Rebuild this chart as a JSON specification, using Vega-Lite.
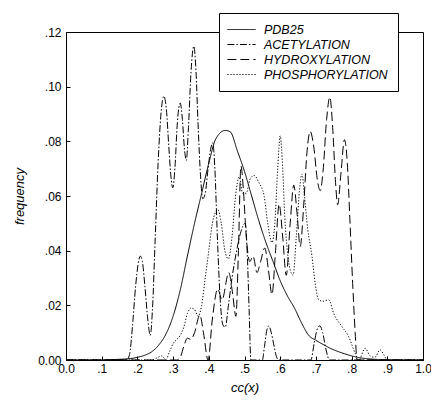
{
  "$schema": "https://vega.github.io/schema/vega-lite/v6.json",
  "autosize": {"type": "none"},
  "padding": {"left": 66, "top": 32, "right": 8, "bottom": 45},
  "width": 357,
  "height": 328,
  "config": {
    "font": "Liberation Sans",
    "view": {"stroke": "black", "strokeWidth": 1},
    "axis": {"domainColor": "black", "tickColor": "black", "labelColor": "black", "titleColor": "black", "grid": false, "labelFontSize": 12, "titleFontSize": 13, "titleFontWeight": "normal", "titleFontStyle": "italic", "labelFont": "Liberation Sans", "titleFont": "Liberation Sans"}
  },
  "datasets": {
    "curves": [
      {"x": 0, "y": 0, "s": "PDB25"},
      {"x": 0.1, "y": 0, "s": "PDB25"},
      {"x": 0.14, "y": 0.0002, "s": "PDB25"},
      {"x": 0.18, "y": 0.0005, "s": "PDB25"},
      {"x": 0.2, "y": 0.001, "s": "PDB25"},
      {"x": 0.22, "y": 0.0017, "s": "PDB25"},
      {"x": 0.24, "y": 0.003, "s": "PDB25"},
      {"x": 0.26, "y": 0.0055, "s": "PDB25"},
      {"x": 0.28, "y": 0.0095, "s": "PDB25"},
      {"x": 0.3, "y": 0.016, "s": "PDB25"},
      {"x": 0.32, "y": 0.0256, "s": "PDB25"},
      {"x": 0.34, "y": 0.038, "s": "PDB25"},
      {"x": 0.36, "y": 0.05, "s": "PDB25"},
      {"x": 0.38, "y": 0.061, "s": "PDB25"},
      {"x": 0.4, "y": 0.072, "s": "PDB25"},
      {"x": 0.42, "y": 0.081, "s": "PDB25"},
      {"x": 0.446, "y": 0.084, "s": "PDB25"},
      {"x": 0.46, "y": 0.0835, "s": "PDB25"},
      {"x": 0.48, "y": 0.0765, "s": "PDB25"},
      {"x": 0.5, "y": 0.069, "s": "PDB25"},
      {"x": 0.52, "y": 0.06, "s": "PDB25"},
      {"x": 0.54, "y": 0.051, "s": "PDB25"},
      {"x": 0.56, "y": 0.043, "s": "PDB25"},
      {"x": 0.58, "y": 0.036, "s": "PDB25"},
      {"x": 0.6, "y": 0.029, "s": "PDB25"},
      {"x": 0.62, "y": 0.0235, "s": "PDB25"},
      {"x": 0.64, "y": 0.019, "s": "PDB25"},
      {"x": 0.66, "y": 0.0135, "s": "PDB25"},
      {"x": 0.68, "y": 0.009, "s": "PDB25"},
      {"x": 0.7, "y": 0.0072, "s": "PDB25"},
      {"x": 0.72, "y": 0.0057, "s": "PDB25"},
      {"x": 0.74, "y": 0.0043, "s": "PDB25"},
      {"x": 0.76, "y": 0.0032, "s": "PDB25"},
      {"x": 0.78, "y": 0.0023, "s": "PDB25"},
      {"x": 0.8, "y": 0.0015, "s": "PDB25"},
      {"x": 0.82, "y": 0.0009, "s": "PDB25"},
      {"x": 0.85, "y": 0.0004, "s": "PDB25"},
      {"x": 0.9, "y": 0.0001, "s": "PDB25"},
      {"x": 1.0, "y": 0, "s": "PDB25"},

      {"x": 0, "y": 0, "s": "ACETYLATION"},
      {"x": 0.17, "y": 0, "s": "ACETYLATION"},
      {"x": 0.178, "y": 0.002, "s": "ACETYLATION"},
      {"x": 0.186, "y": 0.012, "s": "ACETYLATION"},
      {"x": 0.195, "y": 0.027, "s": "ACETYLATION"},
      {"x": 0.202, "y": 0.035, "s": "ACETYLATION"},
      {"x": 0.208, "y": 0.038, "s": "ACETYLATION"},
      {"x": 0.214, "y": 0.036, "s": "ACETYLATION"},
      {"x": 0.221, "y": 0.027, "s": "ACETYLATION"},
      {"x": 0.229, "y": 0.015, "s": "ACETYLATION"},
      {"x": 0.236, "y": 0.009, "s": "ACETYLATION"},
      {"x": 0.242, "y": 0.018, "s": "ACETYLATION"},
      {"x": 0.25, "y": 0.045, "s": "ACETYLATION"},
      {"x": 0.258, "y": 0.072, "s": "ACETYLATION"},
      {"x": 0.266, "y": 0.09, "s": "ACETYLATION"},
      {"x": 0.274, "y": 0.0965, "s": "ACETYLATION"},
      {"x": 0.281, "y": 0.092, "s": "ACETYLATION"},
      {"x": 0.288, "y": 0.078, "s": "ACETYLATION"},
      {"x": 0.294, "y": 0.067, "s": "ACETYLATION"},
      {"x": 0.299, "y": 0.063, "s": "ACETYLATION"},
      {"x": 0.305, "y": 0.07, "s": "ACETYLATION"},
      {"x": 0.312, "y": 0.087, "s": "ACETYLATION"},
      {"x": 0.32, "y": 0.094, "s": "ACETYLATION"},
      {"x": 0.326, "y": 0.088, "s": "ACETYLATION"},
      {"x": 0.332, "y": 0.077, "s": "ACETYLATION"},
      {"x": 0.337, "y": 0.073, "s": "ACETYLATION"},
      {"x": 0.343, "y": 0.085, "s": "ACETYLATION"},
      {"x": 0.35, "y": 0.105, "s": "ACETYLATION"},
      {"x": 0.358, "y": 0.1148, "s": "ACETYLATION"},
      {"x": 0.364, "y": 0.106, "s": "ACETYLATION"},
      {"x": 0.37, "y": 0.086, "s": "ACETYLATION"},
      {"x": 0.377, "y": 0.067, "s": "ACETYLATION"},
      {"x": 0.383, "y": 0.059, "s": "ACETYLATION"},
      {"x": 0.39, "y": 0.061, "s": "ACETYLATION"},
      {"x": 0.398, "y": 0.07, "s": "ACETYLATION"},
      {"x": 0.405, "y": 0.077, "s": "ACETYLATION"},
      {"x": 0.411, "y": 0.0795, "s": "ACETYLATION"},
      {"x": 0.417, "y": 0.07, "s": "ACETYLATION"},
      {"x": 0.424, "y": 0.045, "s": "ACETYLATION"},
      {"x": 0.432, "y": 0.022, "s": "ACETYLATION"},
      {"x": 0.439, "y": 0.013, "s": "ACETYLATION"},
      {"x": 0.446, "y": 0.012, "s": "ACETYLATION"},
      {"x": 0.455, "y": 0.02, "s": "ACETYLATION"},
      {"x": 0.465, "y": 0.03, "s": "ACETYLATION"},
      {"x": 0.478, "y": 0.04, "s": "ACETYLATION"},
      {"x": 0.49, "y": 0.047, "s": "ACETYLATION"},
      {"x": 0.502, "y": 0.05, "s": "ACETYLATION"},
      {"x": 0.508, "y": 0.038, "s": "ACETYLATION"},
      {"x": 0.513, "y": 0.018, "s": "ACETYLATION"},
      {"x": 0.518, "y": 0, "s": "ACETYLATION"},
      {"x": 0.55, "y": 0, "s": "ACETYLATION"},
      {"x": 0.556, "y": 0.005, "s": "ACETYLATION"},
      {"x": 0.562, "y": 0.0105, "s": "ACETYLATION"},
      {"x": 0.568, "y": 0.0125, "s": "ACETYLATION"},
      {"x": 0.575, "y": 0.01, "s": "ACETYLATION"},
      {"x": 0.583, "y": 0.005, "s": "ACETYLATION"},
      {"x": 0.59, "y": 0.001, "s": "ACETYLATION"},
      {"x": 0.596, "y": 0, "s": "ACETYLATION"},
      {"x": 0.686, "y": 0, "s": "ACETYLATION"},
      {"x": 0.695, "y": 0.006, "s": "ACETYLATION"},
      {"x": 0.703, "y": 0.011, "s": "ACETYLATION"},
      {"x": 0.711, "y": 0.0125, "s": "ACETYLATION"},
      {"x": 0.719, "y": 0.01, "s": "ACETYLATION"},
      {"x": 0.728, "y": 0.004, "s": "ACETYLATION"},
      {"x": 0.738, "y": 0, "s": "ACETYLATION"},
      {"x": 1.0, "y": 0, "s": "ACETYLATION"},

      {"x": 0, "y": 0, "s": "HYDROXYLATION"},
      {"x": 0.31, "y": 0, "s": "HYDROXYLATION"},
      {"x": 0.32, "y": 0.001, "s": "HYDROXYLATION"},
      {"x": 0.33, "y": 0.005, "s": "HYDROXYLATION"},
      {"x": 0.34, "y": 0.008, "s": "HYDROXYLATION"},
      {"x": 0.35, "y": 0.0075, "s": "HYDROXYLATION"},
      {"x": 0.36, "y": 0.01, "s": "HYDROXYLATION"},
      {"x": 0.375, "y": 0.0165, "s": "HYDROXYLATION"},
      {"x": 0.385, "y": 0.01, "s": "HYDROXYLATION"},
      {"x": 0.398, "y": 0, "s": "HYDROXYLATION"},
      {"x": 0.41, "y": 0.015, "s": "HYDROXYLATION"},
      {"x": 0.425, "y": 0.026, "s": "HYDROXYLATION"},
      {"x": 0.437, "y": 0.022, "s": "HYDROXYLATION"},
      {"x": 0.456, "y": 0.032, "s": "HYDROXYLATION"},
      {"x": 0.466, "y": 0.025, "s": "HYDROXYLATION"},
      {"x": 0.476, "y": 0.016, "s": "HYDROXYLATION"},
      {"x": 0.483, "y": 0.04, "s": "HYDROXYLATION"},
      {"x": 0.49, "y": 0.071, "s": "HYDROXYLATION"},
      {"x": 0.497, "y": 0.062, "s": "HYDROXYLATION"},
      {"x": 0.505, "y": 0.045, "s": "HYDROXYLATION"},
      {"x": 0.515, "y": 0.036, "s": "HYDROXYLATION"},
      {"x": 0.524, "y": 0.038, "s": "HYDROXYLATION"},
      {"x": 0.535, "y": 0.032, "s": "HYDROXYLATION"},
      {"x": 0.545, "y": 0.036, "s": "HYDROXYLATION"},
      {"x": 0.557, "y": 0.041, "s": "HYDROXYLATION"},
      {"x": 0.567, "y": 0.033, "s": "HYDROXYLATION"},
      {"x": 0.577, "y": 0.024, "s": "HYDROXYLATION"},
      {"x": 0.587, "y": 0.04, "s": "HYDROXYLATION"},
      {"x": 0.597, "y": 0.057, "s": "HYDROXYLATION"},
      {"x": 0.607, "y": 0.045, "s": "HYDROXYLATION"},
      {"x": 0.617, "y": 0.031, "s": "HYDROXYLATION"},
      {"x": 0.628, "y": 0.05, "s": "HYDROXYLATION"},
      {"x": 0.638, "y": 0.064, "s": "HYDROXYLATION"},
      {"x": 0.647, "y": 0.054, "s": "HYDROXYLATION"},
      {"x": 0.656, "y": 0.0415, "s": "HYDROXYLATION"},
      {"x": 0.666, "y": 0.057, "s": "HYDROXYLATION"},
      {"x": 0.675, "y": 0.076, "s": "HYDROXYLATION"},
      {"x": 0.684, "y": 0.0836, "s": "HYDROXYLATION"},
      {"x": 0.694, "y": 0.078, "s": "HYDROXYLATION"},
      {"x": 0.704, "y": 0.066, "s": "HYDROXYLATION"},
      {"x": 0.712, "y": 0.062, "s": "HYDROXYLATION"},
      {"x": 0.72, "y": 0.069, "s": "HYDROXYLATION"},
      {"x": 0.73, "y": 0.088, "s": "HYDROXYLATION"},
      {"x": 0.739, "y": 0.0962, "s": "HYDROXYLATION"},
      {"x": 0.747, "y": 0.085, "s": "HYDROXYLATION"},
      {"x": 0.755, "y": 0.065, "s": "HYDROXYLATION"},
      {"x": 0.761, "y": 0.0568, "s": "HYDROXYLATION"},
      {"x": 0.77, "y": 0.068, "s": "HYDROXYLATION"},
      {"x": 0.78, "y": 0.0806, "s": "HYDROXYLATION"},
      {"x": 0.788, "y": 0.072, "s": "HYDROXYLATION"},
      {"x": 0.795, "y": 0.052, "s": "HYDROXYLATION"},
      {"x": 0.803, "y": 0.028, "s": "HYDROXYLATION"},
      {"x": 0.81, "y": 0.01, "s": "HYDROXYLATION"},
      {"x": 0.815, "y": 0, "s": "HYDROXYLATION"},
      {"x": 1.0, "y": 0, "s": "HYDROXYLATION"},

      {"x": 0, "y": 0, "s": "PHOSPHORYLATION"},
      {"x": 0.24, "y": 0, "s": "PHOSPHORYLATION"},
      {"x": 0.255, "y": 0.0008, "s": "PHOSPHORYLATION"},
      {"x": 0.268, "y": 0.0015, "s": "PHOSPHORYLATION"},
      {"x": 0.28, "y": 0.0002, "s": "PHOSPHORYLATION"},
      {"x": 0.29, "y": 0.003, "s": "PHOSPHORYLATION"},
      {"x": 0.3, "y": 0.006, "s": "PHOSPHORYLATION"},
      {"x": 0.31, "y": 0.0075, "s": "PHOSPHORYLATION"},
      {"x": 0.32, "y": 0.009, "s": "PHOSPHORYLATION"},
      {"x": 0.33, "y": 0.012, "s": "PHOSPHORYLATION"},
      {"x": 0.34, "y": 0.017, "s": "PHOSPHORYLATION"},
      {"x": 0.35, "y": 0.019, "s": "PHOSPHORYLATION"},
      {"x": 0.36, "y": 0.0185, "s": "PHOSPHORYLATION"},
      {"x": 0.37, "y": 0.016, "s": "PHOSPHORYLATION"},
      {"x": 0.38, "y": 0.02, "s": "PHOSPHORYLATION"},
      {"x": 0.39, "y": 0.03, "s": "PHOSPHORYLATION"},
      {"x": 0.4, "y": 0.04, "s": "PHOSPHORYLATION"},
      {"x": 0.41, "y": 0.05, "s": "PHOSPHORYLATION"},
      {"x": 0.425, "y": 0.055, "s": "PHOSPHORYLATION"},
      {"x": 0.435, "y": 0.05, "s": "PHOSPHORYLATION"},
      {"x": 0.445, "y": 0.04, "s": "PHOSPHORYLATION"},
      {"x": 0.455, "y": 0.037, "s": "PHOSPHORYLATION"},
      {"x": 0.465, "y": 0.045, "s": "PHOSPHORYLATION"},
      {"x": 0.475, "y": 0.06, "s": "PHOSPHORYLATION"},
      {"x": 0.485, "y": 0.067, "s": "PHOSPHORYLATION"},
      {"x": 0.495, "y": 0.061, "s": "PHOSPHORYLATION"},
      {"x": 0.505, "y": 0.061, "s": "PHOSPHORYLATION"},
      {"x": 0.515, "y": 0.066, "s": "PHOSPHORYLATION"},
      {"x": 0.527, "y": 0.0675, "s": "PHOSPHORYLATION"},
      {"x": 0.54, "y": 0.065, "s": "PHOSPHORYLATION"},
      {"x": 0.555, "y": 0.06, "s": "PHOSPHORYLATION"},
      {"x": 0.565, "y": 0.05, "s": "PHOSPHORYLATION"},
      {"x": 0.577, "y": 0.043, "s": "PHOSPHORYLATION"},
      {"x": 0.585, "y": 0.05, "s": "PHOSPHORYLATION"},
      {"x": 0.593, "y": 0.07, "s": "PHOSPHORYLATION"},
      {"x": 0.6, "y": 0.082, "s": "PHOSPHORYLATION"},
      {"x": 0.607, "y": 0.07, "s": "PHOSPHORYLATION"},
      {"x": 0.613, "y": 0.052, "s": "PHOSPHORYLATION"},
      {"x": 0.62, "y": 0.04, "s": "PHOSPHORYLATION"},
      {"x": 0.628, "y": 0.033, "s": "PHOSPHORYLATION"},
      {"x": 0.636, "y": 0.031, "s": "PHOSPHORYLATION"},
      {"x": 0.645, "y": 0.045, "s": "PHOSPHORYLATION"},
      {"x": 0.654, "y": 0.062, "s": "PHOSPHORYLATION"},
      {"x": 0.661, "y": 0.068, "s": "PHOSPHORYLATION"},
      {"x": 0.668, "y": 0.06, "s": "PHOSPHORYLATION"},
      {"x": 0.677, "y": 0.048, "s": "PHOSPHORYLATION"},
      {"x": 0.689, "y": 0.038, "s": "PHOSPHORYLATION"},
      {"x": 0.698, "y": 0.028, "s": "PHOSPHORYLATION"},
      {"x": 0.708, "y": 0.022, "s": "PHOSPHORYLATION"},
      {"x": 0.72, "y": 0.0215, "s": "PHOSPHORYLATION"},
      {"x": 0.736, "y": 0.022, "s": "PHOSPHORYLATION"},
      {"x": 0.75, "y": 0.017, "s": "PHOSPHORYLATION"},
      {"x": 0.773, "y": 0.0122, "s": "PHOSPHORYLATION"},
      {"x": 0.792, "y": 0.0085, "s": "PHOSPHORYLATION"},
      {"x": 0.81, "y": 0.0024, "s": "PHOSPHORYLATION"},
      {"x": 0.82, "y": 0, "s": "PHOSPHORYLATION"},
      {"x": 0.838, "y": 0.0043, "s": "PHOSPHORYLATION"},
      {"x": 0.852, "y": 0.0015, "s": "PHOSPHORYLATION"},
      {"x": 0.865, "y": 0.001, "s": "PHOSPHORYLATION"},
      {"x": 0.88, "y": 0.0037, "s": "PHOSPHORYLATION"},
      {"x": 0.89, "y": 0.002, "s": "PHOSPHORYLATION"},
      {"x": 0.9, "y": 0, "s": "PHOSPHORYLATION"},
      {"x": 1.0, "y": 0, "s": "PHOSPHORYLATION"}
    ]
  },
  "data": {"name": "curves"},
  "mark": {"type": "line", "interpolate": "monotone", "strokeWidth": 1, "color": "black", "clip": true},
  "encoding": {
    "x": {
      "field": "x", "type": "quantitative",
      "scale": {"domain": [0, 1], "nice": false},
      "axis": {"values": [0, 0.1, 0.2, 0.3, 0.4, 0.5, 0.6, 0.7, 0.8, 0.9, 1.0], "tickSize": -4, "labelPadding": 7, "labelExpr": "datum.value == 0 ? '0.0' : datum.value == 1 ? '1.0' : replace(format(datum.value, '.1f'), '0.', '.')", "title": "cc(x)", "titlePadding": 7, "labelFlush": false}
    },
    "y": {
      "field": "y", "type": "quantitative",
      "scale": {"domain": [0, 0.12], "nice": false},
      "axis": {"values": [0, 0.02, 0.04, 0.06, 0.08, 0.1, 0.12], "tickSize": -4, "labelPadding": 9, "labelExpr": "datum.value == 0 ? '0.00' : replace(format(datum.value, '.2f'), '0.', '.')", "title": "frequency", "titlePadding": 11, "labelFlush": false}
    },
    "strokeDash": {
      "field": "s", "type": "nominal",
      "scale": {"domain": ["PDB25", "ACETYLATION", "HYDROXYLATION", "PHOSPHORYLATION"], "range": [[1, 0], [7, 2, 1.5, 2], [9, 4], [1.2, 1.8]]},
      "legend": {
        "title": null, "orient": "none", "legendX": 153, "legendY": -19,
        "symbolType": "M-2.35,0H2.35", "symbolSize": 144, "symbolStrokeWidth": 1, "symbolStrokeColor": "black", "symbolOffset": 6,
        "labelFontSize": 12.5, "labelFontStyle": "italic", "labelFont": "Liberation Sans", "labelColor": "black",
        "strokeColor": "black", "fillColor": "white", "padding": 10, "rowPadding": 2, "labelOffset": 16
      }
    }
  }
}
